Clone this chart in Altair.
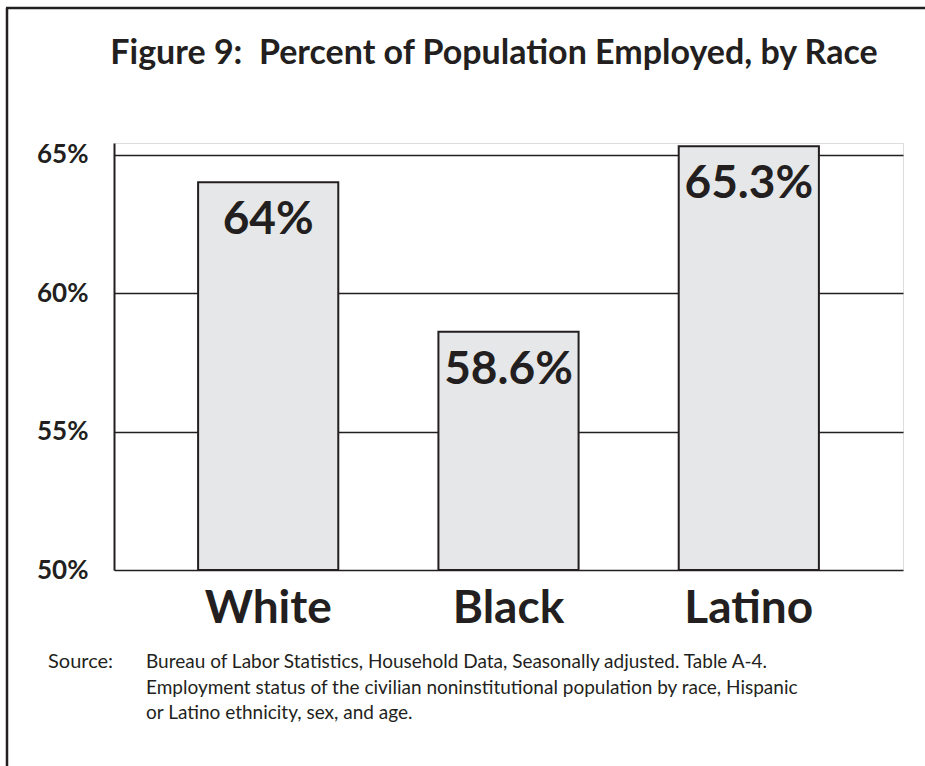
import altair as alt
import pandas as pd

categories = ["White", "Black", "Latino"]
values = [64.0, 58.6, 65.3]
labels = ["64%", "58.6%", "65.3%"]
y_ticks = [50, 55, 60, 65]
y_base = 50
title_text = "Figure 9:\u00a0 Percent of Population Employed, by Race"
source_label = "Source:"
source_lines = [
    "Bureau of Labor Statistics, Household Data, Seasonally adjusted. Table A-4.",
    "Employment status of the civilian noninstitutional population by race, Hispanic",
    "or Latino ethnicity, sex, and age.",
]

INK = "#231f20"
FONT = "Lato"

df = pd.DataFrame({"race": categories, "value": values, "label": labels, "base": [y_base] * 3})

W, H = 789, 427
PAD = {"left": 114, "top": 143, "right": 22, "bottom": 196}

x = alt.X(
    "race:N",
    sort=categories,
    scale=alt.Scale(paddingInner=0.4167, paddingOuter=0.35),
    axis=alt.Axis(
        title=None, labelAngle=0, labelFontSize=46, labelFontWeight="bold",
        labelFont=FONT, labelColor=INK, labelPadding=16, domain=False, ticks=False,
        labelOverlap=False, labelBaseline="top",
    ),
)
y = alt.Y(
    "value:Q",
    scale=alt.Scale(domain=[50, 65.42], nice=False, zero=False),
    axis=alt.Axis(
        title=None, values=y_ticks, labelExpr="datum.value + '%'",
        labelFontSize=26, labelFontWeight="bold", labelFont=FONT, labelColor=INK,
        labelPadding=26, ticks=False, domain=True, domainColor=INK, domainWidth=2,
        grid=True, gridColor=INK, gridWidth=1.3, gridOpacity=1,
    ),
)

bars = alt.Chart(df).mark_bar(
    fill="#e6e7e8", stroke=INK, strokeWidth=2
).encode(x=x, y=y, y2="base:Q")

texts = alt.Chart(df).mark_text(
    fontSize=46, fontWeight="bold", font=FONT, color=INK,
    baseline="alphabetic", align="center", dy=52,
).encode(x=alt.X("race:N", sort=categories), y=alt.Y("value:Q"), text="label:N")

one = alt.Data(values=[{}])

title = alt.Chart(one).mark_text(
    text=title_text, fontSize=34, fontWeight="bold", font=FONT, color=INK,
    align="center", baseline="alphabetic",
).encode(x=alt.value(380), y=alt.value(-79))

src_label = alt.Chart(one).mark_text(
    text=source_label, fontSize=20, font=FONT, color=INK, align="left", baseline="alphabetic"
).encode(x=alt.value(-66), y=alt.value(525))

src_body = alt.Chart(one).mark_text(
    text=source_lines, fontSize=19, font=FONT, color=INK, align="left",
    baseline="alphabetic", lineHeight=25.5,
).encode(x=alt.value(32), y=alt.value(525))

border_left = alt.Chart(one).mark_rule(color=INK, strokeWidth=2.5).encode(
    x=alt.value(-107), y=alt.value(-135), y2=alt.value(623)
)
border_top = alt.Chart(one).mark_rule(color=INK, strokeWidth=2.5).encode(
    x=alt.value(-108), x2=alt.value(811), y=alt.value(-135)
)

chart = alt.layer(bars, texts, title, src_label, src_body, border_left, border_top).properties(
    width=W, height=H,
    autosize=alt.AutoSizeParams(type="none"),
    padding=PAD,
).configure_view(stroke=None).configure(background="white")

chart.save("out.html", embed_options={"renderer": "svg", "actions": False})
